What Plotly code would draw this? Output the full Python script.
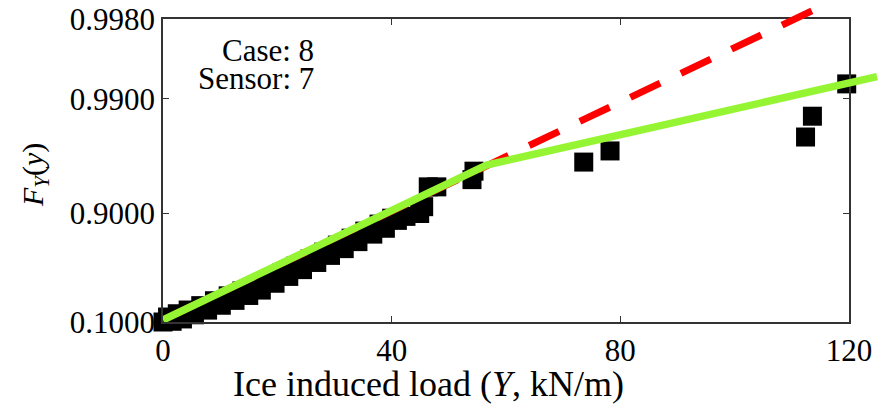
import numpy as np
import plotly.graph_objects as go

# ---------------- data ----------------
load_kN = [0, 0.8, 1.6, 2.5, 3.4, 4.4, 5.5, 6.6, 7.8, 9.0, 10.2, 11.4, 12.6, 13.8,
           15.0, 16.0, 17.2, 18.4, 19.6, 20.8, 22.0, 23.2, 24.4, 25.7, 26.9, 28.1,
           29.3, 30.5, 31.7, 32.9, 34.1, 35.3, 36.7, 37.8, 38.9, 40.0, 41.0, 42.5,
           44.9, 45.6, 46.4, 47.9, 54.05, 54.4, 73.6, 78.2, 112.4, 113.6, 119.6, 120.1]
cdf_emp = [0.100, 0.186, 0.113, 0.238, 0.154, 0.293, 0.222, 0.353, 0.292, 0.414,
           0.358, 0.469, 0.418, 0.519, 0.473, 0.560, 0.527, 0.616, 0.588, 0.665,
           0.641, 0.708, 0.687, 0.747, 0.729, 0.780, 0.765, 0.809, 0.795, 0.834,
           0.822, 0.856, 0.847, 0.875, 0.864, 0.889, 0.884, 0.893, 0.899, 0.912,
           0.941, 0.941, 0.949, 0.957, 0.9642, 0.9714, 0.9784, 0.9858, 0.9926, 0.9930]

# red dashed fit (listed from its upper end so the dash pattern starts there)
red_x = [113.5, 0]
red_F = [0.9983, 0.136]

green_x = [0, 56.6, 124.9]
green_F = [0.135, 0.962, 0.9936]

y_tick_F = [0.1, 0.9, 0.99, 0.998]
y_tick_text = ["0.1000", "0.9000", "0.9900", "0.9980"]
x_ticks = [0, 40, 80, 120]


def tr(F):
    """probability-paper transform (exponential scale)"""
    return -np.log(1.0 - np.asarray(F, dtype=float))


W, H = 881, 404
# main plot area in pixels
L, R, T, B = 163, 849, 19, 322
xd = [L / W, R / W]
yd = [(H - B) / H, (H - T) / H]
xr = [0, 120]
zr = [float(tr(0.1)), float(tr(0.998))]

# second (invisible) subplot with the same scale but a larger domain,
# so the fitted lines can run past the frame as in the reference
xd2 = [L / W, 1.0]
yd2 = [(H - B) / H, 1.0]
xr2 = [0, 120 * (W - L) / (R - L)]
zr2 = [zr[0], zr[0] + (zr[1] - zr[0]) * B / (B - T)]

serif = "Liberation Serif, Times New Roman, serif"

fig = go.Figure()
fig.add_trace(go.Scatter(
    x=load_kN, y=tr(cdf_emp), mode="markers",
    marker=dict(symbol="square", size=19, color="black", line=dict(width=0)),
    cliponaxis=False, showlegend=False, xaxis="x", yaxis="y"))
fig.add_trace(go.Scatter(
    x=red_x, y=tr(red_F), mode="lines",
    line=dict(color="#FF0000", width=7, dash="33px,23px"),
    showlegend=False, xaxis="x2", yaxis="y2"))
fig.add_trace(go.Scatter(
    x=green_x, y=tr(green_F), mode="lines",
    line=dict(color="#96F532", width=7.5),
    showlegend=False, xaxis="x2", yaxis="y2"))

axis_common = dict(showgrid=False, zeroline=False, showline=True, linecolor="#333333",
                   linewidth=1.6, mirror="ticks", ticks="inside", ticklen=6,
                   tickwidth=1.4, tickcolor="#333333", automargin=False,
                   tickfont=dict(family=serif, size=31, color="black"))
hidden = dict(showgrid=False, zeroline=False, showline=False, showticklabels=False,
              ticks="", automargin=False)
fig.update_layout(
    width=W, height=H, margin=dict(l=0, r=0, t=0, b=0, pad=0, autoexpand=False),
    paper_bgcolor="white", plot_bgcolor="rgba(0,0,0,0)",
    xaxis=dict(domain=xd, range=xr, tickvals=x_ticks,
               ticktext=[str(v) for v in x_ticks], anchor="y", **axis_common),
    yaxis=dict(domain=yd, range=zr, tickvals=list(tr(y_tick_F)),
               ticktext=y_tick_text, anchor="x", **axis_common),
    xaxis2=dict(domain=xd2, range=xr2, anchor="y2", **hidden),
    yaxis2=dict(domain=yd2, range=zr2, anchor="x2", **hidden),
)

fig.add_annotation(text="Ice induced load (<i>Y</i>, kN/m)", xref="paper", yref="paper",
                   x=428 / W, y=(H - 384) / H, xanchor="center", yanchor="middle",
                   showarrow=False, font=dict(family=serif, size=36, color="black"))
fig.add_annotation(text="<i>F</i><sub><i>Y</i></sub>(<i>y</i>)", xref="paper", yref="paper",
                   x=35 / W, y=(H - 175) / H, xanchor="center", yanchor="middle",
                   textangle=-90, showarrow=False,
                   font=dict(family=serif, size=30, color="black"))
fig.add_annotation(text="Case: 8", xref="paper", yref="paper",
                   x=316 / W, y=(H - 50) / H, xanchor="right", yanchor="middle",
                   showarrow=False, font=dict(family=serif, size=31, color="black"))
fig.add_annotation(text="Sensor: 7", xref="paper", yref="paper",
                   x=316 / W, y=(H - 79) / H, xanchor="right", yanchor="middle",
                   showarrow=False, font=dict(family=serif, size=31, color="black"))

fig.write_html("out.html")
